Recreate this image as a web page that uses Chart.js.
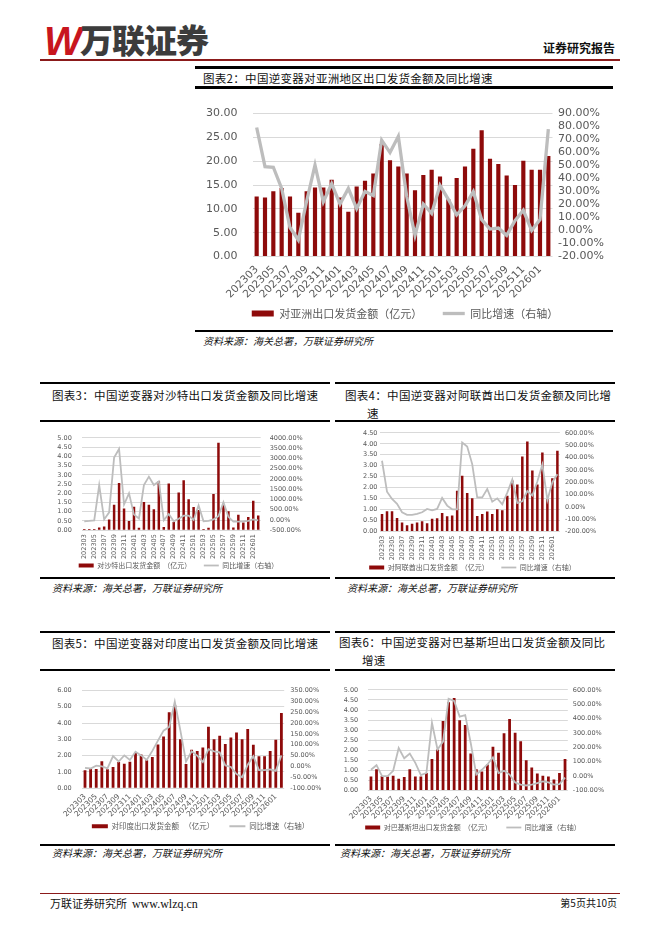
<!DOCTYPE html>
<html><head><meta charset="utf-8">
<script src="https://cdn.jsdelivr.net/npm/chart.js@4.4.1/dist/chart.umd.min.js"></script>
<style>
body{margin:0;width:662px;height:936px;background:#fff;position:relative;overflow:hidden;font-family:"Noto Sans CJK SC",sans-serif;}
.hl{position:absolute;background:#000;}
.title{position:absolute;font-size:11.5px;color:#111;letter-spacing:0.3px;line-height:18px;white-space:nowrap;}
.src{position:absolute;font-size:10px;font-style:italic;color:#111;white-space:nowrap;line-height:14px;}
canvas{position:absolute;}
</style></head><body>
<div style="position:absolute;left:44px;top:21px;font:italic bold 40px 'Liberation Sans',sans-serif;color:#C8161E;line-height:40px;letter-spacing:-3px;">W</div>
<div style="position:absolute;left:80px;top:22px;font-size:33px;font-weight:900;color:#3c3c3c;line-height:34px;letter-spacing:-1px;">万联证券</div>
<div style="position:absolute;left:543px;top:40px;font-size:12px;font-weight:bold;color:#111;line-height:16px;">证券研究报告</div>
<div class="hl" style="left:40px;top:59px;width:580px;height:1.5px;background:#8B1A1A;"></div>

<div class="hl" style="left:195px;top:66px;width:418px;height:2.5px;"></div>
<div class="title" style="left:203px;top:69px;">图表2：中国逆变器对亚洲地区出口发货金额及同比增速</div>
<div class="hl" style="left:195px;top:86px;width:418px;height:2.5px;"></div>
<div class="hl" style="left:195px;top:330px;width:418px;height:1.5px;"></div>
<div class="src" style="left:203px;top:334px;">资料来源：海关总署，万联证券研究所</div>

<div class="hl" style="left:40px;top:382px;width:290px;height:2px;"></div>
<div class="title" style="left:52px;top:386px;">图表3：中国逆变器对沙特出口发货金额及同比增速</div>
<div class="hl" style="left:40px;top:420px;width:290px;height:2px;"></div>
<div class="hl" style="left:40px;top:577px;width:290px;height:2px;"></div>
<div class="src" style="left:52px;top:581px;">资料来源：海关总署，万联证券研究所</div>

<div class="hl" style="left:335px;top:382px;width:280px;height:2px;"></div>
<div class="title" style="left:345px;top:386px;">图表4：中国逆变器对阿联酋出口发货金额及同比增<br><span style="padding-left:22px">速</span></div>
<div class="hl" style="left:335px;top:420px;width:280px;height:2px;"></div>
<div class="hl" style="left:335px;top:577px;width:280px;height:2px;"></div>
<div class="src" style="left:347px;top:581px;">资料来源：海关总署，万联证券研究所</div>

<div class="hl" style="left:40px;top:631px;width:290px;height:2px;"></div>
<div class="title" style="left:52px;top:634px;">图表5：中国逆变器对印度出口发货金额及同比增速</div>
<div class="hl" style="left:40px;top:669px;width:290px;height:2px;"></div>
<div class="hl" style="left:40px;top:844px;width:290px;height:2px;"></div>
<div class="src" style="left:52px;top:846px;">资料来源：海关总署，万联证券研究所</div>

<div class="hl" style="left:335px;top:631px;width:280px;height:2px;"></div>
<div class="title" style="left:339px;top:633px;">图表6：中国逆变器对巴基斯坦出口发货金额及同比<br><span style="padding-left:23px">增速</span></div>
<div class="hl" style="left:335px;top:669px;width:280px;height:2px;"></div>
<div class="hl" style="left:335px;top:844px;width:280px;height:2px;"></div>
<div class="src" style="left:340px;top:846px;">资料来源：海关总署，万联证券研究所</div>

<div class="hl" style="left:40px;top:893px;width:580px;height:1px;background:#8B1A1A;"></div>
<div style="position:absolute;left:50px;top:896px;font-size:11px;color:#111;line-height:14px;white-space:nowrap;">万联证券研究所&nbsp;&nbsp;<span style="font-family:'Liberation Serif',serif;font-size:12px;">www.wlzq.cn</span></div>
<div style="position:absolute;right:45px;top:896px;font-size:10px;color:#111;line-height:14px;">第5页共10页</div>

<script>
const months = ['202303','202304','202305','202306','202307','202308','202309','202310','202311','202312',
 '202401','202402','202403','202404','202405','202406','202407','202408','202409','202410','202411','202412',
 '202501','202502','202503','202504','202505','202506','202507','202508','202509','202510','202511','202512',
 '202601','202602'];

const asiaAmount = [12.6,12.4,13.7,14.4,12.6,9.2,13.7,14.5,14.5,16.1,12.4,9.4,14.7,15.9,17.4,23.6,20.2,18.9,17.4,13.9,17.1,18.2,16.8,12.0,16.5,18.9,22.6,26.5,20.5,19.4,17.0,15.0,20.1,18.2,18.2,21.1];
const asiaYoY = [79.3,49.2,48.7,32.4,2.3,-7.3,22.7,50.4,22.0,36.0,20.4,32.4,16.8,30.0,26.9,69.6,60.0,72.5,26.4,-3.7,20.4,13.2,34.8,24.0,12.0,19.0,30.0,8.4,1.1,1.9,-3.7,7.6,15.6,0.0,8.4,78.0];

const saudiAmount = [0.07,0.07,0.06,0.15,0.2,0.58,1.38,2.56,1.17,0.5,1.27,0.13,1.53,1.38,1.13,2.65,0.17,2.53,0.45,2.04,2.7,1.67,1.26,1.1,0.07,0.13,1.96,4.74,1.36,1.02,0.14,0.84,0.42,0.72,1.6,0.8];
const saudiYoY = [-67,-50,-20,1700,25,370,3040,3460,750,1300,260,70,1700,2110,1700,1880,-20,290,-67,57,210,210,0,710,-67,-50,25,180,860,150,-80,-80,-70,-50,25,-20];

const uaeAmount = [0.8,0.92,0.92,0.62,0.41,0.29,0.35,0.41,0.47,0.38,0.58,0.61,0.85,0.7,0.73,1.86,2.55,1.76,1.52,0.71,0.8,0.91,0.8,1.02,0.97,1.63,2.33,2.15,3.42,4.11,2.78,2.14,3.6,1.48,2.43,3.68];
const uaeYoY = [374,123,64,24,-44,-65,-65,-57,-44,-17,-28,-17,72,10,-20,-20,522,490,347,77,77,145,42,69,20,116,223,30,45,128,92,205,344,55,200,264];

const indiaAmount = [1.1,1.22,1.18,1.65,1.16,1.31,1.61,1.5,1.63,2.16,2.07,1.71,1.92,2.68,3.17,4.66,5.1,3.0,1.48,2.36,2.28,2.5,3.77,3.0,3.22,2.72,3.11,3.42,3.0,3.63,2.66,1.96,1.96,2.28,2.98,4.61];
const indiaYoY = [-6,-9,4,1,-9,48,23,51,30,68,51,30,72,119,165,182,298,165,23,70,50,20,80,70,65,5,-2,-35,-49,8,47,-17,-17,-13,-20,51];

const pakAmount = [0.7,1.06,0.72,0.69,0.73,0.59,0.67,1.06,0.7,0.69,0.87,1.56,2.04,3.46,4.38,4.6,3.49,3.26,1.84,1.06,0.95,1.29,2.18,1.88,2.85,3.55,2.87,2.45,1.5,1.14,0.84,0.73,0.69,0.55,0.87,1.57];
const pakYoY = [44,76,0,0,37,196,124,157,92,7,22,371,185,240,539,523,414,425,229,11,44,81,131,22,37,11,-44,-59,-65,-59,-48,-37,-44,-59,-55,-11];

const lineLabel = '同比增速（右轴）';

const RED = '#8E0A0A', GRAY = '#BDBDBD', GRID = '#D9D9D9', TXT = '#595959';
const NUMF = "'DejaVu Sans', sans-serif", CJKF = "'Noto Sans CJK SC', sans-serif";
Chart.defaults.animation = false;

function makeChart(o){
  const cv = document.createElement('canvas');
  const padL = o.padL||0, padR = o.padR||0;
  const padTop = o.areaTop - o.top;
  const legendH = o.legFs + o.legPad + 10;
  const legendTop = o.legY - o.legPad - o.legFs/2;
  const canvasH = Math.round(legendTop + legendH - o.top);
  const leftW = o.areaLeft - o.left - padL;
  const rightW = o.left + o.width - padR - o.areaRight;
  const xH = legendTop - o.areaBottom;
  cv.width = o.width; cv.height = canvasH;
  cv.style.left = o.left+'px'; cv.style.top = o.top+'px';
  cv.style.width = o.width+'px'; cv.style.height = canvasH+'px';
  document.body.appendChild(cv);
  new Chart(cv, {
    data: {labels: months, datasets: [
      {type:'line', label: lineLabel, data: o.yoy, yAxisID:'y2', borderColor: GRAY, backgroundColor: GRAY,
       borderWidth: o.lw, pointRadius: 0, pointHoverRadius:0, pointStyle:'line', tension: 0},
      {type:'bar', label: o.barLabel, data: o.amount, yAxisID:'y', backgroundColor: RED, borderWidth:0,
       barPercentage: o.bp, categoryPercentage: 1, pointStyle:'rect'}
    ]},
    options: {
      responsive:false, maintainAspectRatio:false, animation:false,
      layout:{padding:{top:padTop, left:padL, right:padR, bottom:0}},
      plugins:{
        tooltip:{enabled:false},
        legend:{position:'bottom', labels:{usePointStyle:true, pointStyleWidth:o.legBoxW, boxHeight:o.legBoxH,
          padding:o.legPad, color:TXT, font:{family:CJKF, size:o.legFs},
          sort:(a,b)=>b.datasetIndex-a.datasetIndex,
          generateLabels:(chart)=>{
            const items = Chart.defaults.plugins.legend.labels.generateLabels(chart);
            items.forEach(it=>{ if(it.datasetIndex===1) it.text += o.gap; });
            return items;
          }}}
      },
      scales:{
        x:{grid:{display:false, drawTicks:false}, border:{display:false},
           ticks:{autoSkip:false, maxRotation:o.rot, minRotation:o.rot, padding:o.xpad, color:TXT,
             font:{family:NUMF, size:o.xfs},
             callback:function(v,i){ return i%2===0 ? this.getLabelForValue(v) : ''; }},
           afterFit:s=>{s.height = xH;}},
        y:{position:'left', min:o.yMin, max:o.yMax, grid:{color:GRID, drawTicks:false, lineWidth:1}, border:{display:false},
           ticks:{autoSkip:false, stepSize:o.yStep, padding:o.ylpad, color:TXT, font:{family:NUMF, size:o.yfs},
             callback:v=>Number(v).toFixed(2)},
           afterFit:s=>{s.width = leftW;}},
        y2:{position:'right', min:o.rMin, max:o.rMax, grid:{display:false, drawTicks:false}, border:{display:false},
           ticks:{autoSkip:false, stepSize:o.rStep, padding:o.yrpad, color:TXT, font:{family:NUMF, size:o.yfs},
             callback:v=>Number(v).toFixed(2)+'%'},
           afterFit:s=>{s.width = rightW;}}
      }
    }
  });
}

makeChart({left:195, top:92, width:420, areaTop:103, areaBottom:256, areaLeft:252.5, areaRight:552.5,
  legY:313, legFs:11, legPad:4, legBoxW:22, legBoxH:6, gap:'\u3000\u3000',
  amount:asiaAmount, yoy:asiaYoY, barLabel:'对亚洲出口发货金额（亿元）', lw:3.3, bp:0.5,
  rot:45, xpad:7, xfs:10.5, yfs:11, ylpad:15, yrpad:5.5,
  yMin:0, yMax:30, yStep:5, rMin:-20, rMax:90, rStep:10});

makeChart({left:40, top:424, width:290, areaTop:432.7, areaBottom:529.7, areaLeft:81.8, areaRight:260.7, padR:13,
  legY:565, legFs:7, legPad:2, legBoxW:15, legBoxH:4, gap:'\u3000\u3000',
  amount:saudiAmount, yoy:saudiYoY, barLabel:'对沙特出口发货金额  （亿元）', lw:1.8, bp:0.5,
  rot:90, xpad:4, xfs:6.5, yfs:6.5, ylpad:10, yrpad:9,
  yMin:0, yMax:5, yStep:0.5, rMin:-500, rMax:4000, rStep:500});

makeChart({left:335, top:424, width:280, areaTop:432, areaBottom:531, areaLeft:379.5, areaRight:559.9, padR:5,
  legY:567, legFs:7, legPad:2, legBoxW:15, legBoxH:4, gap:'\u3000\u3000',
  amount:uaeAmount, yoy:uaeYoY, barLabel:'对阿联酋出口发货金额  （亿元）', lw:1.8, bp:0.5,
  rot:90, xpad:4, xfs:6.5, yfs:6.5, ylpad:2, yrpad:5,
  yMin:0, yMax:4.5, yStep:0.5, rMin:-200, rMax:600, rStep:100});

makeChart({left:40, top:676, width:321, areaTop:683.3, areaBottom:788.7, areaLeft:82.2, areaRight:284.2,
  legY:826.7, legFs:7.5, legPad:4, legBoxW:16, legBoxH:4, gap:'\u3000\u3000',
  amount:indiaAmount, yoy:indiaYoY, barLabel:'对印度出口发货金额   （亿元）', lw:1.8, bp:0.5,
  rot:45, xpad:4, xfs:7.5, yfs:6.5, ylpad:10.5, yrpad:6,
  yMin:0, yMax:6, yStep:1, rMin:-100, rMax:350, rStep:50});

makeChart({left:335, top:676, width:280, areaTop:683.3, areaBottom:790.3, areaLeft:368.2, areaRight:567.8, padR:4,
  legY:827.3, legFs:7, legPad:4, legBoxW:15, legBoxH:4, gap:'\u3000\u3000',
  amount:pakAmount, yoy:pakYoY, barLabel:'对巴基斯坦出口发货金额  （亿元）', lw:1.8, bp:0.5,
  rot:45, xpad:4, xfs:7.5, yfs:6.5, ylpad:10, yrpad:5,
  yMin:0, yMax:5, yStep:0.5, rMin:-100, rMax:600, rStep:100});
</script>
</body></html>
